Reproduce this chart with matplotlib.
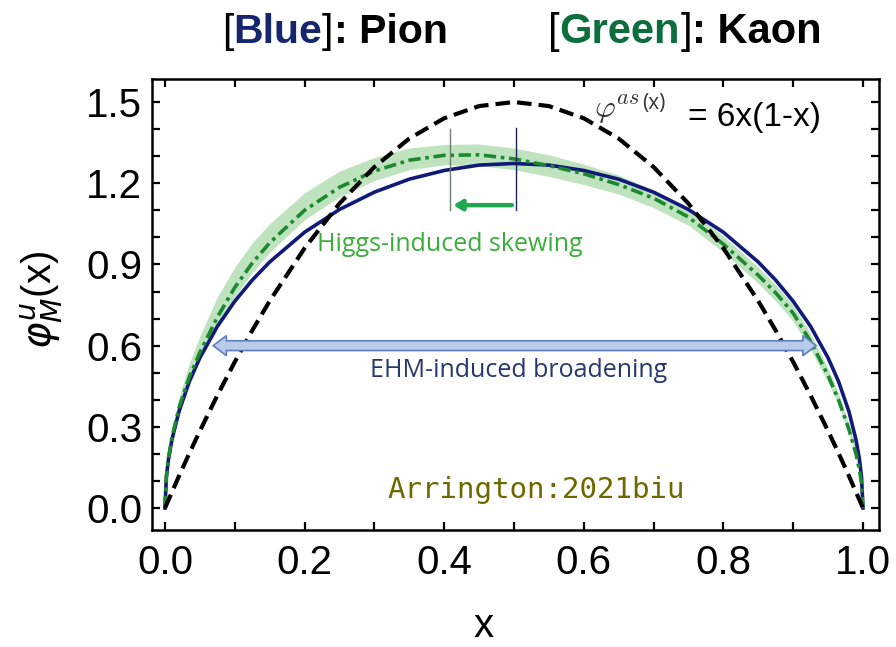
import matplotlib
matplotlib.use("Agg")
import matplotlib.pyplot as plt
from matplotlib.patches import Polygon
from matplotlib.ticker import MultipleLocator

# ---------------- data ----------------
x = [0, 0.002, 0.005, 0.01, 0.02, 0.035, 0.05, 0.075, 0.1, 0.125, 0.15, 0.2, 0.25,
     0.3, 0.35, 0.4, 0.45, 0.5, 0.55, 0.6, 0.65, 0.7, 0.75, 0.8, 0.85, 0.875, 0.9,
     0.925, 0.95, 0.965, 0.98, 0.99, 0.995, 0.998, 1.0]

asymptotic = [0, 0.012, 0.030, 0.059, 0.118, 0.203, 0.285, 0.416, 0.54, 0.656, 0.765,
              0.96, 1.125, 1.26, 1.365, 1.44, 1.485, 1.5, 1.485, 1.44, 1.365, 1.26,
              1.125, 0.96, 0.765, 0.656, 0.54, 0.416, 0.285, 0.203, 0.118, 0.059,
              0.030, 0.012, 0]

pion = [0, 0.114, 0.180, 0.253, 0.356, 0.468, 0.555, 0.671, 0.764, 0.842, 0.909,
        1.019, 1.103, 1.167, 1.215, 1.247, 1.267, 1.273, 1.267, 1.247, 1.215, 1.167,
        1.103, 1.019, 0.909, 0.842, 0.764, 0.671, 0.555, 0.468, 0.356, 0.253,
        0.180, 0.114, 0]

kaon = [0, 0.118, 0.186, 0.262, 0.37, 0.485, 0.575, 0.705, 0.815, 0.905, 0.98, 1.10,
        1.185, 1.245, 1.285, 1.303, 1.305, 1.29, 1.265, 1.235, 1.195, 1.145, 1.075,
        0.975, 0.86, 0.795, 0.72, 0.615, 0.49, 0.40, 0.29, 0.20, 0.14, 0.09, 0]

kaon_lo = [0, 0.11, 0.177, 0.25, 0.355, 0.465, 0.55, 0.675, 0.78, 0.87, 0.945, 1.065,
           1.15, 1.21, 1.25, 1.268, 1.265, 1.25, 1.225, 1.195, 1.16, 1.11, 1.045,
           0.945, 0.83, 0.765, 0.69, 0.585, 0.465, 0.38, 0.27, 0.185, 0.13, 0.085, 0]

kaon_hi = [0, 0.128, 0.205, 0.29, 0.41, 0.535, 0.635, 0.78, 0.89, 0.98, 1.05, 1.165,
           1.245, 1.295, 1.33, 1.343, 1.345, 1.33, 1.305, 1.27, 1.23, 1.175, 1.105,
           1.005, 0.89, 0.825, 0.75, 0.645, 0.515, 0.425, 0.31, 0.215, 0.15, 0.095, 0]

x_ticks = [0.0, 0.2, 0.4, 0.6, 0.8, 1.0]
y_ticks = [0.0, 0.3, 0.6, 0.9, 1.2, 1.5]

# ---------------- colours ----------------
C_PION = "#101a78"
C_KAON = "#1c8a2c"
C_BAND = "#bfe3bf"
C_TITLE_BLUE = "#15266e"
C_TITLE_GREEN = "#0c6e3c"

W, H, DPI = 896, 647, 100
fig = plt.figure(figsize=(W / DPI, H / DPI), dpi=DPI)
ax = fig.add_axes([152 / W, 1 - 530 / H, 727 / W, 451 / H])

ax.fill_between(x, kaon_lo, kaon_hi, color=C_BAND, lw=0, zorder=1)
ax.plot(x, pion, color=C_PION, lw=2.6, zorder=3)
lk, = ax.plot(x, kaon, color=C_KAON, lw=2.6, zorder=4)
lk.set_dashes((3.4, 1.3, 1.0, 1.3))
la, = ax.plot(x, asymptotic, color="black", lw=3.0, zorder=5)
la.set_dashes((3.5, 1.7))

ax.set_xlim(-0.0186, 1.023)
ax.set_ylim(-0.081, 1.585)

ax.set_xticks(x_ticks)
ax.set_xticklabels([f"{v:.1f}" for v in x_ticks])
ax.set_yticks(y_ticks)
ax.set_yticklabels([f"{v:.1f}" for v in y_ticks])
ax.xaxis.set_minor_locator(MultipleLocator(0.1))
ax.yaxis.set_minor_locator(MultipleLocator(0.1))
tick_font = "Liberation Sans"
ax.tick_params(which="both", direction="in", top=True, right=True,
               length=6, width=1.6, color="black")
ax.tick_params(axis="x", which="major", labelsize=29, pad=10)
ax.tick_params(axis="y", which="major", labelsize=29, pad=7)
for lab in ax.get_xticklabels() + ax.get_yticklabels():
    lab.set_fontfamily(tick_font)
for sp in ax.spines.values():
    sp.set_linewidth(1.8)

ax.set_xlabel("x", fontsize=29, family=tick_font, va="center", ha="center")
ax.xaxis.set_label_coords((484 - 152) / 727, (530 - 626) / 451)
ax.set_ylabel(r"$\varphi_M^u$(x)", fontsize=29, family=tick_font,
              va="center", ha="center")
ax.yaxis.set_label_coords((42 - 152) / 727, (530 - 300) / 451)

# ---------------- annotations ----------------
# phi^as(x) = 6x(1-x)
ax.text(0.615, 1.47, r"$\varphi^{as}$", fontsize=23, color="#333333",
        math_fontfamily="cm", ha="left", va="center")
ax.text(0.683, 1.495, "(x)", fontsize=15, color="#333333", family="Open Sans",
        ha="left", va="center")
ax.text(0.749, 1.444, "= 6x(1-x)", fontsize=24, color="black", family=tick_font,
        ha="left", va="center")

# Higgs-induced skewing
ax.plot([0.408, 0.408], [1.10, 1.40], color="#6f7f6f", lw=1.0, zorder=6)
ax.plot([0.503, 0.503], [1.10, 1.405], color="#1a2060", lw=1.0, zorder=6)
ax.annotate("", xy=(0.413, 1.119), xytext=(0.497, 1.119),
            arrowprops=dict(arrowstyle="-|>,head_length=0.5,head_width=0.3",
                            color="#1fa84f", lw=3.2, shrinkA=0, shrinkB=0),
            zorder=7)
ax.text(0.408, 0.972, "Higgs-induced skewing", fontsize=18, color="#3aae3a",
        family="Open Sans", ha="center", va="center")

# EHM-induced broadening double arrow
x0, x1, yc = 0.069, 0.933, 0.6
bh, hh, hl = 0.018, 0.037, 0.019
arrow_pts = [(x0, yc), (x0 + hl, yc + hh), (x0 + hl, yc + bh), (x1 - hl, yc + bh),
             (x1 - hl, yc + hh), (x1, yc), (x1 - hl, yc - hh), (x1 - hl, yc - bh),
             (x0 + hl, yc - bh), (x0 + hl, yc - hh)]
ax.add_patch(Polygon(arrow_pts, closed=True, facecolor="#b8cbeb",
                     edgecolor="#5f7fbf", lw=1.2, zorder=8))
ax.text(0.506, 0.51, "EHM-induced broadening", fontsize=18, color="#27376f",
        family="Open Sans", ha="center", va="center")

ax.text(0.532, 0.066, "Arrington:2021biu", fontsize=21, color="#6e6800",
        family="DejaVu Sans Mono", ha="center", va="center")

# ---------------- title with coloured pieces ----------------
renderer = fig.canvas.get_renderer()


def piece_line(x_px, base_px, pieces, size):
    xp = x_px
    for txt, col, wt in pieces:
        t = fig.text(xp / W, 1 - base_px / H, txt, color=col, fontsize=size,
                     fontweight=wt, family=tick_font, ha="left", va="baseline")
        bb = t.get_window_extent(renderer)
        xp += bb.width


piece_line(222, 43, [("[", "black", "normal"), ("Blue", C_TITLE_BLUE, "bold"),
                     ("]", "black", "normal"), (": Pion", "black", "bold")], 29.5)
piece_line(548, 43, [("[", "black", "normal"), ("Green", C_TITLE_GREEN, "bold"),
                     ("]", "black", "normal"), (": Kaon", "black", "bold")], 30)

fig.savefig("out.png", dpi=DPI)
